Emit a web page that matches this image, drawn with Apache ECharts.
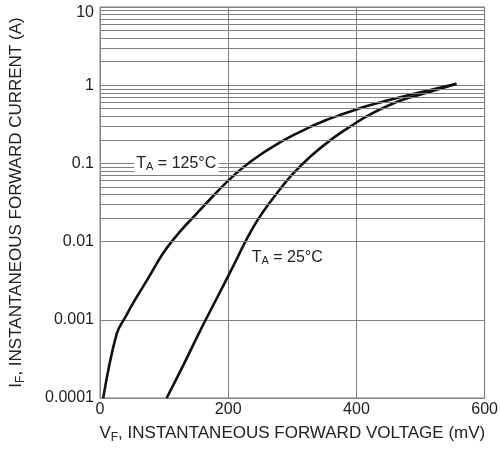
<!DOCTYPE html>
<html>
<head>
<meta charset="utf-8">
<script src="https://cdn.jsdelivr.net/npm/echarts@6/dist/echarts.min.js"></script>
<style>html,body{margin:0;padding:0;background:#fff}#c{width:501px;height:452px}</style>
</head>
<body>
<div id="c"></div>
<script>
// Forward voltage (mV) and forward current (A)
const vf125 = [5, 26, 40, 55, 75, 100, 125, 150, 175, 200, 225, 250, 275, 300, 325, 350, 375, 400, 430, 470, 510, 556];
const if125 = [0.0001, 0.00066, 0.0011, 0.00182, 0.00339, 0.00741, 0.0135, 0.0224, 0.0372, 0.0603, 0.0912, 0.129, 0.174, 0.226, 0.285, 0.351, 0.417, 0.49, 0.582, 0.708, 0.851, 1.04];
const vf25 = [104, 130, 155, 180, 205, 225, 240, 255, 275, 300, 330, 360, 390, 420, 450, 480, 515, 556];
const if25 = [0.0001, 0.000263, 0.000692, 0.00174, 0.00437, 0.00933, 0.0158, 0.0245, 0.0407, 0.0724, 0.126, 0.2, 0.295, 0.417, 0.55, 0.684, 0.822, 1.04];
const xTicks = ['0', '200', '400', '600'];
const yTicks = ['0.0001', '0.001', '0.01', '0.1', '1', '10'];
const labels = [
  {text: '125°C', v: 119, i: 0.1},
  {text: '25°C', v: 292, i: 0.0063}
];

const minorGrid = [];
for (let d = 0.0001; d < 9; d *= 10) {
  for (let m = 2; m <= 9; m++) minorGrid.push({yAxis: +(m * d).toPrecision(3)});
}

const txt = '#222';
const gridColor = '#808080';
const font = 'Liberation Sans, Arial, sans-serif';
function richFor(size) {
  return {
    t: {fontSize: size, color: txt, fontFamily: font},
    s: {fontSize: Math.round(size * 0.7), color: txt, fontFamily: font, verticalAlign: 'bottom', padding: [Math.round(size * 0.5), 0, 0, 0]}
  };
}

const chart = echarts.init(document.getElementById('c'));
chart.setOption({
  animation: false,
  backgroundColor: '#fff',
  grid: {left: 100, top: 7, width: 392, height: 391, show: true, borderColor: gridColor, borderWidth: 1},
  xAxis: {
    type: 'value', min: 0, max: 600, interval: 200,
    axisLine: {show: false}, axisTick: {show: false},
    splitLine: {show: true, lineStyle: {color: gridColor, width: 1}},
    axisLabel: {color: txt, fontSize: 16, fontFamily: font, margin: 4,
      formatter: v => xTicks[Math.round(v / 200)]},
    name: '{t|V}{s|F}{t|, INSTANTANEOUS FORWARD VOLTAGE (mV)}',
    nameLocation: 'middle', nameGap: 25,
    nameTextStyle: {rich: richFor(17)}
  },
  yAxis: {
    type: 'log', logBase: 10, min: 0.0001, max: 10,
    axisLine: {show: false}, axisTick: {show: false},
    splitLine: {show: true, lineStyle: {color: gridColor, width: 1}},
    axisLabel: {color: txt, fontSize: 16, fontFamily: font, margin: 6,
      formatter: v => {
        const k = Math.round(Math.log10(v)) + 4;
        return k === 5 ? '{top|' + yTicks[k] + '}' : yTicks[k];
      },
      rich: {top: {fontSize: 16, color: txt, fontFamily: font, padding: [12, 0, 0, 0]}}},
    name: '{t|I}{s|F}{t|, INSTANTANEOUS FORWARD CURRENT (A)}',
    nameLocation: 'middle', nameGap: 73,
    nameTextStyle: {rich: richFor(17)}
  },
  series: [
    {
      type: 'line', data: [], silent: true, z: 1,
      markLine: {silent: true, symbol: 'none', label: {show: false},
        lineStyle: {color: gridColor, width: 1, type: 'solid'}, data: minorGrid}
    },
    {
      type: 'line', name: '125', data: vf125.map((v, k) => [v, if125[k]]),
      showSymbol: false, smooth: 0.4, z: 3,
      lineStyle: {color: '#111', width: 2.6},
      markPoint: {
        symbol: 'rect', symbolSize: 1, itemStyle: {color: 'rgba(0,0,0,0)'},
        label: {show: true, position: 'inside', backgroundColor: '#fff', padding: [0, 2],
          formatter: p => '{t|T}{s|A}{t| = ' + p.name + '}', rich: richFor(16)},
        data: [{name: labels[0].text, coord: [labels[0].v, labels[0].i]}]
      }
    },
    {
      type: 'line', name: '25', data: vf25.map((v, k) => [v, if25[k]]),
      showSymbol: false, smooth: 0.4, z: 3,
      lineStyle: {color: '#111', width: 2.6},
      markPoint: {
        symbol: 'rect', symbolSize: 1, itemStyle: {color: 'rgba(0,0,0,0)'},
        label: {show: true, position: 'inside', backgroundColor: '#fff', padding: [0, 2],
          formatter: p => '{t|T}{s|A}{t| = ' + p.name + '}', rich: richFor(16)},
        data: [{name: labels[1].text, coord: [labels[1].v, labels[1].i]}]
      }
    }
  ]
});
</script>
</body>
</html>
